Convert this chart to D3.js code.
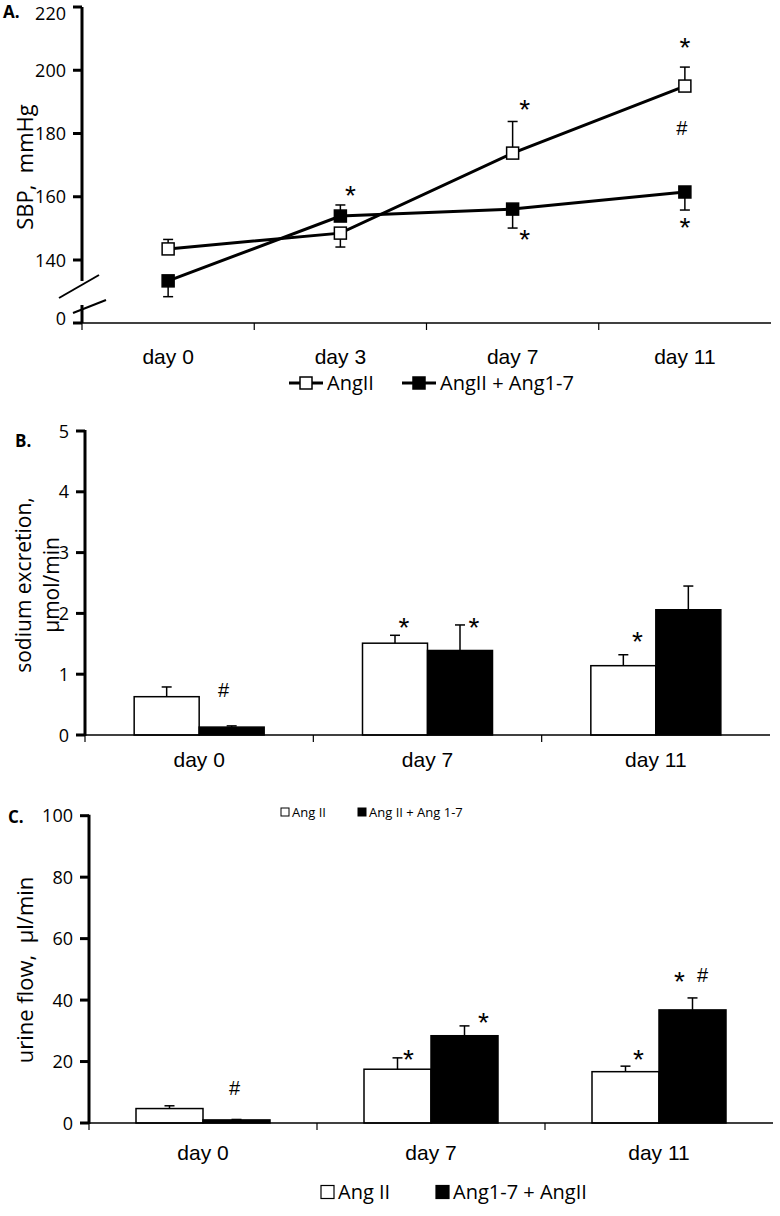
<!DOCTYPE html>
<html><head><meta charset="utf-8">
<script src="https://cdn.jsdelivr.net/npm/d3@7"></script>
<style>
body{margin:0;background:#fff;}
svg{display:block;}
</style></head>
<body>
<svg id="c" width="780" height="1216"></svg>
<script>
// ---------- DATA ----------
// Panel A: systolic blood pressure
const daysA = ["day 0","day 3","day 7","day 11"];
const seriesA = ["AngII","AngII + Ang1-7"];
const sbpAngII = [143.5,148.5,173.8,195.0];
const sbpAngII_err = [3.0,4.4,10.0,6.0];
const sbpAng17 = [133.4,153.9,156.1,161.5];
const sbpAng17_err = [5.0,3.5,6.0,5.7];
const ticksA = [140,160,180,200,220];
// annotation anchors (data units)
const annotA = [
  {day:"day 3", value:162.4, text:"*", shift:10},
  {day:"day 7", value:189.6, text:"*", shift:12},
  {day:"day 7", value:148.5, text:"*", shift:12},
  {day:"day 11", value:209.2, text:"*", shift:0},
  {day:"day 11", value:181.7, text:"#", shift:-3},
  {day:"day 11", value:152.3, text:"*", shift:0}
];

// Panel B: sodium excretion
const daysB = ["day 0","day 7","day 11"];
const seriesB = ["Ang II","Ang II + Ang 1-7"];
const naAngII = [0.63,1.51,1.14];
const naAngII_err = [0.16,0.13,0.18];
const naAng17 = [0.13,1.39,2.06];
const naAng17_err = [0.02,0.42,0.39];
const ticksB = [0,1,2,3,4,5];
const annotB = [
  {day:"day 0", series:1, value:0.74, text:"#", shift:-8},
  {day:"day 7", series:0, value:1.88, text:"*", shift:9},
  {day:"day 7", series:1, value:1.88, text:"*", shift:14},
  {day:"day 11", series:0, value:1.64, text:"*", shift:14}
];

// Panel C: urine flow
const daysC = ["day 0","day 7","day 11"];
const seriesC = ["Ang II","Ang1-7 + AngII"];
const ufAngII = [4.7,17.5,16.7];
const ufAngII_err = [0.9,3.7,1.8];
const ufAng17 = [1.0,28.4,36.8];
const ufAng17_err = [0.15,3.2,3.9];
const ticksC = [0,20,40,60,80,100];
const annotC = [
  {day:"day 0", series:1, value:11.4, text:"#", shift:-2},
  {day:"day 7", series:0, value:22.8, text:"*", shift:11},
  {day:"day 7", series:1, value:34.8, text:"*", shift:19},
  {day:"day 11", series:0, value:22.9, text:"*", shift:13},
  {day:"day 11", series:1, value:48.1, text:"*", shift:-13},
  {day:"day 11", series:1, value:48.1, text:"#", shift:10}
];

// ---------- DRAW ----------
const svg = d3.select("#c");
const CAL = "'Open Sans', 'Noto Sans', sans-serif";
const ARI = "'Liberation Sans', Arial, sans-serif";

function symbol(g, x, yc, t){
  // yc = visual centre of the glyph
  const fs = t === "*" ? 28 : 20;
  const off = t === "*" ? 16 : 7;
  g.append("text").attr("x", x).attr("y", yc + off).attr("text-anchor","middle")
    .attr("font-family", ARI).attr("font-size", fs).text(t);
}

// ===== Panel A =====
(function(){
  const g = svg.append("g");
  const x0 = 82, x1 = 771, yZero = 323;
  const x = d3.scaleBand().domain(daysA).range([x0, x1]);
  const y = d3.scaleLinear().domain([140,220]).range([260,7]);
  const cx = d => x(d) + x.bandwidth()/2;

  // y axis (broken)
  g.append("line").attr("x1",x0).attr("x2",x0).attr("y1",y(220)).attr("y2",281).attr("stroke","#000").attr("stroke-width",3);
  g.append("line").attr("x1",x0).attr("x2",x0).attr("y1",305).attr("y2",yZero).attr("stroke","#000").attr("stroke-width",3);
  g.append("line").attr("x1",59).attr("y1",298).attr("x2",99).attr("y2",275).attr("stroke","#000").attr("stroke-width",2);
  g.append("line").attr("x1",73).attr("y1",313).attr("x2",106).attr("y2",300).attr("stroke","#000").attr("stroke-width",2);
  ticksA.forEach(t=>{
    g.append("line").attr("x1",x0-9).attr("x2",x0).attr("y1",y(t)).attr("y2",y(t)).attr("stroke","#000").attr("stroke-width",3);
    g.append("text").attr("x",x0-16).attr("y",Math.max(y(t)+6.5, 20)).attr("text-anchor","end").attr("font-family",CAL).attr("font-size",18).text(t);
  });
  g.append("line").attr("x1",x0-9).attr("x2",x0).attr("y1",yZero).attr("y2",yZero).attr("stroke","#000").attr("stroke-width",3);
  g.append("text").attr("x",x0-16).attr("y",yZero+1.5).attr("text-anchor","end").attr("font-family",CAL).attr("font-size",18).text("0");

  // x axis
  g.append("line").attr("x1",x0).attr("x2",x1).attr("y1",yZero).attr("y2",yZero).attr("stroke","#000").attr("stroke-width",1.5);
  daysA.forEach((d,i)=>{
    g.append("line").attr("x1",x(d)).attr("x2",x(d)).attr("y1",yZero).attr("y2",yZero+7).attr("stroke","#000").attr("stroke-width",1.2);
    g.append("text").attr("x",cx(d)).attr("y",364).attr("text-anchor","middle").attr("font-family",ARI).attr("font-size",21).text(d);
  });

  // y title
  g.append("text").attr("transform","translate(33,167) rotate(-90)").attr("text-anchor","middle")
    .attr("font-family",CAL).attr("font-size",22).attr("xml:space","preserve").text("SBP,  mmHg");
  g.append("text").attr("x",3).attr("y",18).attr("font-family",CAL).attr("font-weight","bold").attr("font-size",17).text("A.");

  const ser = [
    {vals:sbpAngII, err:sbpAngII_err, fill:"#fff"},
    {vals:sbpAng17, err:sbpAng17_err, fill:"#000"}
  ];
  const line = d3.line().x((v,i)=>cx(daysA[i])).y(v=>y(v));
  ser.forEach(s=>{
    g.append("path").attr("d",line(s.vals)).attr("fill","none").attr("stroke","#000").attr("stroke-width",3);
  });
  // error bars: higher series upward, lower series downward
  ser.forEach((s,si)=>{
    const other = ser[1-si];
    s.vals.forEach((v,i)=>{
      const up = v >= other.vals[i];
      const e = up ? v + s.err[i] : v - s.err[i];
      const xx = cx(daysA[i]);
      g.append("line").attr("x1",xx).attr("x2",xx).attr("y1",y(v)).attr("y2",y(e)).attr("stroke","#000").attr("stroke-width",1.5);
      g.append("line").attr("x1",xx-5).attr("x2",xx+5).attr("y1",y(e)).attr("y2",y(e)).attr("stroke","#000").attr("stroke-width",1.5);
    });
  });
  ser.forEach(s=>{
    s.vals.forEach((v,i)=>{
      g.append("rect").attr("x",cx(daysA[i])-6).attr("y",y(v)-6).attr("width",12).attr("height",12)
        .attr("fill",s.fill).attr("stroke","#000").attr("stroke-width",1.5);
    });
  });
  annotA.forEach(a=> symbol(g, cx(a.day)+a.shift, y(a.value), a.text));

  // legend
  const ly = 383;
  const items = [{x:289, fill:"#fff", label:seriesA[0]},{x:402, fill:"#000", label:seriesA[1]}];
  items.forEach(it=>{
    g.append("line").attr("x1",it.x).attr("x2",it.x+34).attr("y1",ly).attr("y2",ly).attr("stroke","#000").attr("stroke-width",3);
    g.append("rect").attr("x",it.x+11).attr("y",ly-6).attr("width",12).attr("height",12).attr("fill",it.fill).attr("stroke","#000").attr("stroke-width",1.5);
    g.append("text").attr("x",it.x+38).attr("y",ly+7).attr("font-family",CAL).attr("font-size",20).text(it.label);
  });
})();

// ===== Bar panels =====
function barPanel(cfg){
  const g = svg.append("g");
  const x = d3.scaleBand().domain(cfg.days).range([cfg.x0, cfg.x1]);
  const y = d3.scaleLinear().domain([cfg.ticks[0], cfg.ticks[cfg.ticks.length-1]]).range([cfg.yBase, cfg.yTop]);
  const inner = d3.scaleBand().domain([0,1]).range([0, 2*cfg.bw]);
  const bx = (d,si) => x(d) + x.bandwidth()/2 - cfg.bw + inner(si);

  // bars
  cfg.series.forEach((s,si)=>{
    s.vals.forEach((v,i)=>{
      const d = cfg.days[i];
      g.append("rect").attr("x",bx(d,si)).attr("y",y(v)).attr("width",cfg.bw).attr("height",cfg.yBase - y(v))
        .attr("fill",s.fill).attr("stroke","#000").attr("stroke-width",1.5);
      const xx = bx(d,si)+cfg.bw/2, e = v + s.err[i];
      g.append("line").attr("x1",xx).attr("x2",xx).attr("y1",y(v)).attr("y2",y(e)).attr("stroke","#000").attr("stroke-width",1.5);
      g.append("line").attr("x1",xx-5).attr("x2",xx+5).attr("y1",y(e)).attr("y2",y(e)).attr("stroke","#000").attr("stroke-width",1.5);
    });
  });
  // axes
  g.append("line").attr("x1",cfg.x0).attr("x2",cfg.x1).attr("y1",cfg.yBase).attr("y2",cfg.yBase).attr("stroke","#000").attr("stroke-width",1.5);
  cfg.days.forEach(d=>{
    g.append("line").attr("x1",x(d)).attr("x2",x(d)).attr("y1",cfg.yBase).attr("y2",cfg.yBase+7).attr("stroke","#000").attr("stroke-width",1.2);
    g.append("text").attr("x",x(d)+x.bandwidth()/2).attr("y",cfg.labelY).attr("text-anchor","middle").attr("font-family",ARI).attr("font-size",21).text(d);
  });
  g.append("line").attr("x1",cfg.x0).attr("x2",cfg.x0).attr("y1",cfg.yTop-1).attr("y2",cfg.yBase+1).attr("stroke","#000").attr("stroke-width",3);
  cfg.ticks.forEach(t=>{
    g.append("line").attr("x1",cfg.x0-9).attr("x2",cfg.x0).attr("y1",y(t)).attr("y2",y(t)).attr("stroke","#000").attr("stroke-width",3);
    g.append("text").attr("x",cfg.x0-16).attr("y",y(t)+6.5).attr("text-anchor","end").attr("font-family",CAL).attr("font-size",18).text(t);
  });
  cfg.annot.forEach(a=> symbol(g, bx(a.day,a.series)+cfg.bw/2+a.shift, y(a.value), a.text));
  return g;
}

// Panel B
(function(){
  const g = barPanel({
    days:daysB, ticks:ticksB, x0:85, x1:770, yBase:735, yTop:431, bw:65, labelY:767,
    series:[{vals:naAngII, err:naAngII_err, fill:"#fff"},{vals:naAng17, err:naAng17_err, fill:"#000"}],
    annot:annotB
  });
  g.append("text").attr("x",15).attr("y",447).attr("font-family",CAL).attr("font-weight","bold").attr("font-size",17).text("B.");
  g.append("text").attr("transform","translate(31,585) rotate(-90)").attr("text-anchor","middle").attr("font-family",CAL).attr("font-size",21).text("sodium excretion,");
  g.append("text").attr("transform","translate(59,585) rotate(-90)").attr("text-anchor","middle").attr("font-family",CAL).attr("font-size",21).text("μmol/min");
  // legend
  const ly = 812;
  [{x:281, fill:"#fff", label:seriesB[0]},{x:358, fill:"#000", label:seriesB[1]}].forEach(it=>{
    g.append("rect").attr("x",it.x).attr("y",ly-4).attr("width",8).attr("height",8).attr("fill",it.fill).attr("stroke","#000").attr("stroke-width",1);
    g.append("text").attr("x",it.x+11).attr("y",ly+5).attr("font-family",CAL).attr("font-size",13).text(it.label);
  });
})();

// Panel C
(function(){
  const g = barPanel({
    days:daysC, ticks:ticksC, x0:89, x1:773, yBase:1123, yTop:815.7, bw:67, labelY:1160,
    series:[{vals:ufAngII, err:ufAngII_err, fill:"#fff"},{vals:ufAng17, err:ufAng17_err, fill:"#000"}],
    annot:annotC
  });
  g.append("text").attr("x",8).attr("y",823).attr("font-family",CAL).attr("font-weight","bold").attr("font-size",17).text("C.");
  g.append("text").attr("transform","translate(33,970) rotate(-90)").attr("text-anchor","middle").attr("font-family",CAL)
    .attr("font-size",22).attr("xml:space","preserve").text("urine flow,  μl/min");
  const ly = 1192;
  [{x:321, fill:"#fff", label:seriesC[0]},{x:436, fill:"#000", label:seriesC[1]}].forEach(it=>{
    g.append("rect").attr("x",it.x).attr("y",ly-6.5).attr("width",13).attr("height",13).attr("fill",it.fill).attr("stroke","#000").attr("stroke-width",1.2);
    g.append("text").attr("x",it.x+17).attr("y",ly+7).attr("font-family",CAL).attr("font-size",20).text(it.label);
  });
})();
</script>
</body></html>
